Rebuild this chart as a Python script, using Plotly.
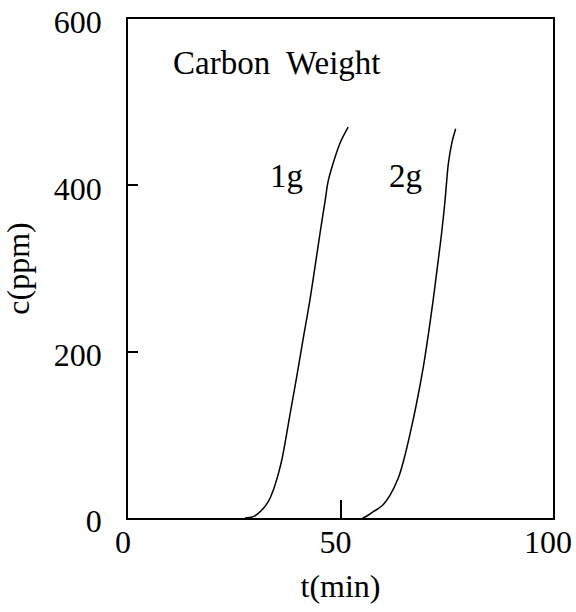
import plotly.graph_objects as go

# Curve for 1 g carbon
t_1g = [27.5, 29.5, 31.5, 33.0, 34.2, 35.4, 36.2, 38.1, 39.7, 41.2, 42.8, 44.0, 45.2, 46.4, 47.1, 48.3, 49.9, 51.8]
c_1g = [0, 1.6, 9.6, 19.6, 33.7, 53.7, 70, 124, 170, 215, 262, 302, 343, 382, 405, 427, 451, 470]

# Curve for 2 g carbon
t_2g = [55.2, 56.2, 57.7, 59.7, 61.6, 63.6, 64.9, 66.4, 67.9, 69.5, 70.7, 71.8, 72.8, 73.8, 74.6, 75.0, 75.4, 76.2, 77.1]
c_2g = [0, 2.4, 7.6, 14.4, 27, 48, 70, 102, 138, 182, 222, 262, 302, 343, 382, 406, 427, 451, 468]

x_ticks = [0, 50, 100]
y_ticks = [0, 200, 400, 600]

labels = ["1g", "2g"]
label_t = [37.2, 65.2]
label_c = [411, 411]
title_text = "Carbon&nbsp; Weight"

FONT = "Liberation Serif, Times New Roman, serif"

fig = go.Figure()
for t, c in [(t_1g, c_1g), (t_2g, c_2g)]:
    fig.add_trace(go.Scatter(x=t, y=c, mode="lines",
                             line=dict(color="black", width=1.5, shape="spline", smoothing=1.0),
                             showlegend=False, hoverinfo="skip", cliponaxis=False))

for lab, tx, cy in zip(labels, label_t, label_c):
    fig.add_annotation(x=tx, y=cy, text=lab, showarrow=False,
                       font=dict(family=FONT, size=33, color="black"),
                       xanchor="center", yanchor="middle")

fig.add_annotation(x=10.1, y=547, text=title_text, showarrow=False,
                   font=dict(family=FONT, size=33, color="black"), xanchor="left", yanchor="middle")

fig.update_layout(
    width=576, height=612,
    margin=dict(l=128, r=23, t=19, b=94),
    paper_bgcolor="white", plot_bgcolor="white",
    font=dict(family=FONT, size=32, color="black"),
)
fig.update_xaxes(range=[0, 100], tickvals=x_ticks, ticktext=[str(v) for v in x_ticks],
                 ticks="inside", ticklen=18, tickwidth=1.5, tickcolor="black",
                 showline=True, linecolor="black", linewidth=1.5, mirror=True,
                 showgrid=False, zeroline=False, automargin=False,
                 ticklabelstandoff=-5, ticklabelshift=-5, ticklabeloverflow="allow",
                 title=dict(text="t(min)", standoff=15, font=dict(family=FONT, size=32)),
                 tickfont=dict(family=FONT, size=32))
fig.update_yaxes(range=[0, 600], tickvals=y_ticks, ticktext=[str(v) for v in y_ticks],
                 ticks="inside", ticklen=10, tickwidth=1.5, tickcolor="black",
                 showline=True, linecolor="black", linewidth=1.5, mirror=True,
                 showgrid=False, zeroline=False, automargin=False, ticklabelstandoff=18,
                 ticklabelshift=3, ticklabeloverflow="allow",
                 title=dict(text="c(ppm)", standoff=19, font=dict(family=FONT, size=32)),
                 tickfont=dict(family=FONT, size=32))

# remove the default page margin so the figure sits at the window's top-left corner
fig.write_html("out.html", config={"displayModeBar": False},
               post_script="document.body.style.margin='0px';")
